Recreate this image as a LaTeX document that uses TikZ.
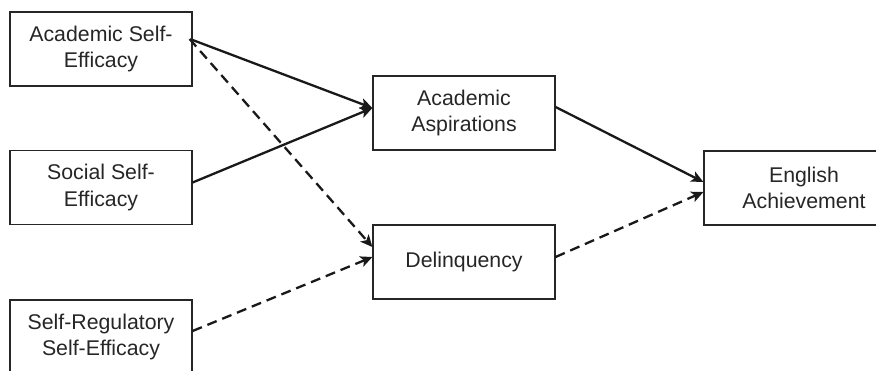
\documentclass[tikz,border=0pt]{standalone}
\usepackage{fontspec}
\setmainfont{Liberation Sans}
\usetikzlibrary{arrows.meta}

\begin{document}
\begin{tikzpicture}[x=1pt,y=-1pt,
    varbox/.style={draw=black!85,line width=1.2pt,minimum width=182pt,minimum height=74pt,
      inner sep=0pt,align=center,text=black!85,font=\fontsize{21.3}{26.5}\selectfont},
    sig/.style={line width=2.3pt,black!90,-{Stealth[length=12pt,width=11pt,inset=3pt]}},
    nonsig/.style={sig,dash pattern=on 10pt off 6pt}]
    \useasboundingbox (0,0) rectangle (876,371);
    \node[varbox] (ase) at (101,49) {Academic Self-\\Efficacy};
    \node[varbox] (sse) at (101,187.5) {Social Self-\\Efficacy};
    \node[varbox] (srse) at (101,337) {Self-Regulatory\\Self-Efficacy};
    \node[varbox] (asp) at (464,113) {Academic\\Aspirations};
    \node[varbox] (del) at (464,262) {Delinquency};
    \node[varbox,minimum width=200pt] (eng) at (804,188) {English\\Achievement};
    \draw[sig] ([yshift=9pt]ase.east) -- ([yshift=5pt]asp.west);
    \draw[sig] ([yshift=5pt]sse.east) -- ([yshift=5pt]asp.west);
    \draw[nonsig] ([yshift=10pt,xshift=-3pt]ase.east) -- ([yshift=15pt]del.west);
    \draw[nonsig] ([yshift=6pt]srse.east) -- ([yshift=5pt]del.west);
    \draw[sig] ([yshift=6pt]asp.east) -- ([yshift=6pt]eng.west);
    \draw[nonsig] ([yshift=5pt]del.east) -- ([yshift=-4pt]eng.west);
\end{tikzpicture}
\end{document}
